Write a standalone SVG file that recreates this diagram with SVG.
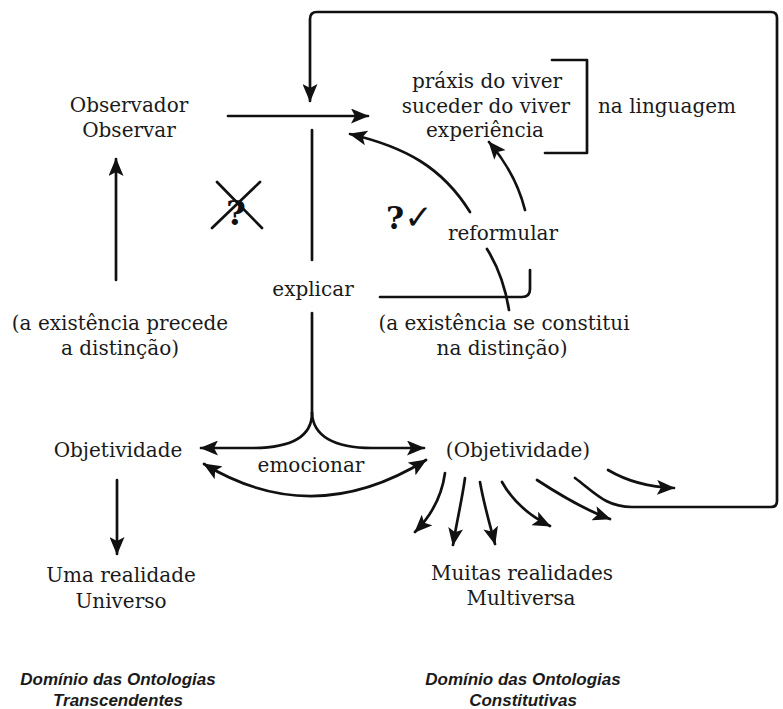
<svg xmlns="http://www.w3.org/2000/svg" width="783" height="709" viewBox="0 0 783 709">
<style>
  .t { font-family: "DejaVu Serif", "Liberation Serif", serif; font-size: 20px; fill: #1a1a1a; text-anchor: middle; }
  .dom { font-family: "Liberation Sans", Arial, sans-serif; font-size: 17px; font-weight: bold; font-style: italic; fill: #1a1a1a; text-anchor: middle; }
  .sym { font-family: "DejaVu Serif", "DejaVu Sans", serif; font-weight: bold; fill: #111; }
  .c { fill: none; stroke: #111; stroke-width: 2.7; stroke-linecap: round; stroke-linejoin: round; }
  .a { marker-end: url(#ah); }
  .ab { marker-start: url(#ah); marker-end: url(#ah); }
</style>
<defs>
  <marker id="ah" markerUnits="userSpaceOnUse" markerWidth="18" markerHeight="15" refX="17" refY="7.5" orient="auto-start-reverse" viewBox="0 0 18 15">
    <path d="M0,0 L18,7.5 L0,15 L4,7.5 z" fill="#111"/>
  </marker>
</defs>
<rect width="783" height="709" fill="#ffffff"/>

<g id="connectors">
  <path class="c a" d="M575 478 C595 493 606 507 632 507 L771 507 Q777 507 777 501 L777 18 Q777 12 771 12 L317 12 Q310 12 310 19 L310 101"/>
  <path class="c a" d="M228 116 L368 116"/>
  <path class="c" d="M312 130 L312 260"/>
  <path class="c" d="M312 313 L312 413"/>
  <path class="c a" d="M312 413 C312 436 292 448 252 448 L201 448"/>
  <path class="c a" d="M312 413 C313 436 334 448 372 448 L424 448"/>
  <path class="c ab" d="M204 464 Q313 530 426 460"/>
  <path class="c a" d="M116 280 L116 159"/>
  <path class="c a" d="M117 480 L117 554"/>
  <path class="c a" d="M470 212 C442 167 405 147 350 134"/>
  <path class="c a" d="M525 210 C519 186 506 162 489 142"/>
  <path class="c" d="M380 297 L522 297 Q530 297 530 289 L530 270"/>
  <path class="c" d="M487 249 C497 265 505 285 509 310"/>
  <path class="c" d="M552 60 L587 60 L587 153 L545 153"/>
  <path class="c a" d="M445 473 C442 495 432 515 415 532"/>
  <path class="c a" d="M465 478 C462 500 457 520 453 545"/>
  <path class="c a" d="M480 482 C484 505 490 525 495 544"/>
  <path class="c a" d="M502 482 C512 500 528 515 550 526"/>
  <path class="c a" d="M537 480 C560 495 585 510 610 519"/>
  <path class="c a" d="M608 470 C625 480 645 487 674 488"/>
</g>

<g id="observador">
  <text class="t" x="129" y="112">Observador</text>
  <text class="t" x="129" y="137">Observar</text>
</g>
<g id="praxis">
  <text class="t" x="487" y="88">práxis do viver</text>
  <text class="t" x="486" y="113">suceder do viver</text>
  <text class="t" x="485" y="137">experiência</text>
</g>
<g id="linguagem">
  <text class="t" x="667" y="113">na linguagem</text>
</g>
<g id="crossed-question">
  <text class="sym" x="236" y="225" text-anchor="middle" style="font-size:34px">?</text>
  <path class="c" d="M217 182 L262 228 M260 182 L212 228" stroke-width="2.4"/>
</g>
<g id="question-check">
  <text class="sym" x="386" y="229" style="font-size:31px">?<tspan style="font-size:34px">✓</tspan></text>
</g>
<g id="reformular">
  <text class="t" x="503" y="240">reformular</text>
</g>
<g id="explicar">
  <text class="t" x="313" y="296">explicar</text>
</g>
<g id="existencia-precede">
  <text class="t" x="120" y="330">(a existência precede</text>
  <text class="t" x="120" y="355">a distinção)</text>
</g>
<g id="existencia-constitui">
  <text class="t" x="504" y="330">(a existência se constitui</text>
  <text class="t" x="502" y="355">na distinção)</text>
</g>
<g id="objetividade">
  <text class="t" x="118" y="457">Objetividade</text>
</g>
<g id="emocionar">
  <text class="t" x="311" y="472">emocionar</text>
</g>
<g id="objetividade-parenteses">
  <text class="t" x="518" y="457">(Objetividade)</text>
</g>
<g id="uma-realidade">
  <text class="t" x="121" y="582">Uma realidade</text>
  <text class="t" x="121" y="608">Universo</text>
</g>
<g id="muitas-realidades">
  <text class="t" x="522" y="580">Muitas realidades</text>
  <text class="t" x="521" y="605">Multiversa</text>
</g>
<g id="dominio-transcendentes">
  <text class="dom" x="118" y="685">Domínio das Ontologias</text>
  <text class="dom" x="118" y="706">Transcendentes</text>
</g>
<g id="dominio-constitutivas">
  <text class="dom" x="523" y="685">Domínio das Ontologias</text>
  <text class="dom" x="523" y="706">Constitutivas</text>
</g>
</svg>
